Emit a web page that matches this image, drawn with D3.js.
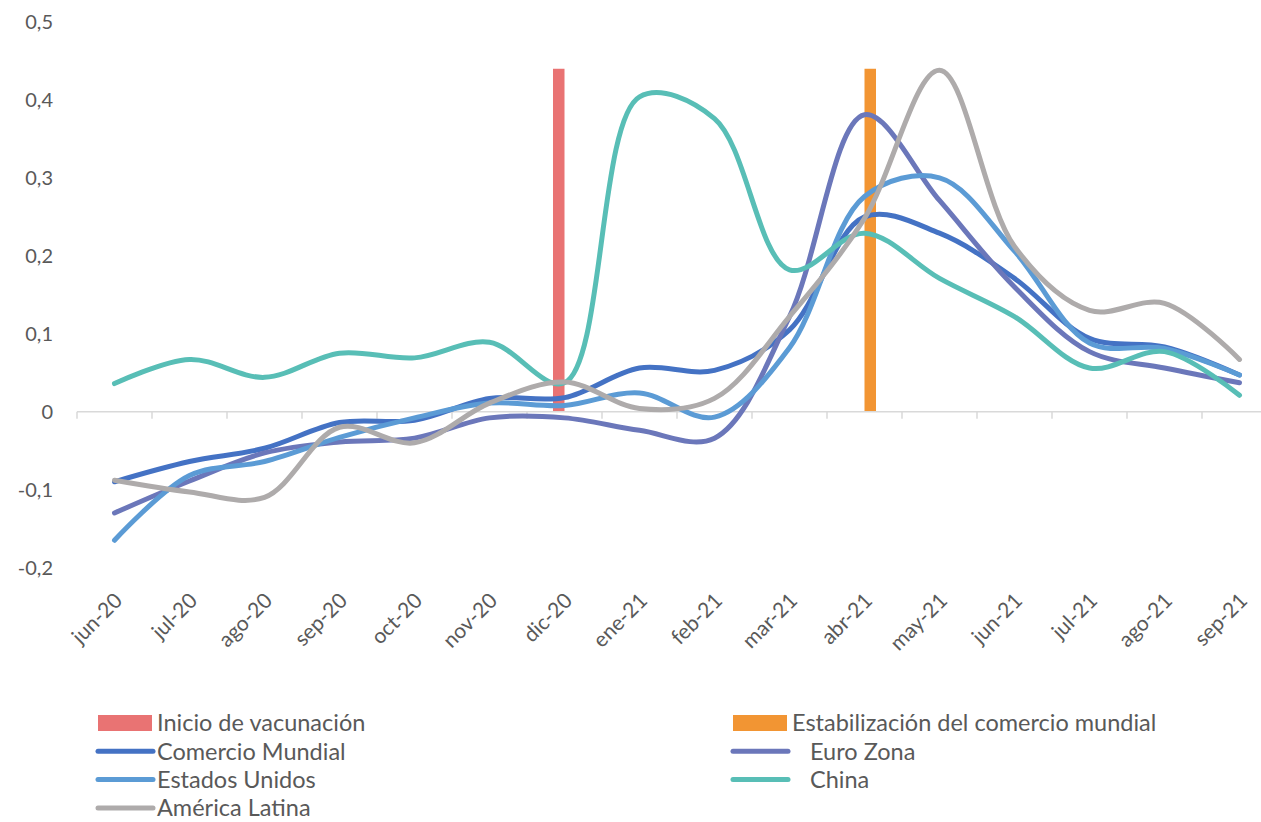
<!DOCTYPE html>
<html>
<head>
<meta charset="utf-8">
<script src="https://cdn.jsdelivr.net/npm/d3@7"></script>
<style>
  body { margin: 0; background: #fff; }
  text { font-family: Lato, "Open Sans", sans-serif; fill: #595959; }
</style>
</head>
<body>
<div id="chart"></div>
<script>
// data ---------------------------------------------------------------------------------------

var months = ["jun-20","jul-20","ago-20","sep-20","oct-20","nov-20","dic-20","ene-21",
              "feb-21","mar-21","abr-21","may-21","jun-21","jul-21","ago-21","sep-21"];

var yTicks = [-0.2, -0.1, 0, 0.1, 0.2, 0.3, 0.4, 0.5];

var comercioMundial = [-0.090,-0.064,-0.047,-0.014,-0.011,0.017,0.018,0.056,0.053,0.105,0.250,0.229,0.171,0.094,0.083,0.047];
var euroZona        = [-0.130,-0.089,-0.053,-0.039,-0.034,-0.008,-0.008,-0.024,-0.034,0.122,0.381,0.271,0.160,0.077,0.056,0.037];
var estadosUnidos   = [-0.165,-0.082,-0.064,-0.033,-0.008,0.011,0.008,0.024,-0.007,0.082,0.276,0.300,0.206,0.088,0.081,0.047];
var china           = [0.036,0.067,0.044,0.075,0.069,0.089,0.037,0.404,0.376,0.182,0.229,0.171,0.122,0.056,0.077,0.021];
var americaLatina   = [-0.088,-0.103,-0.110,-0.020,-0.040,0.011,0.038,0.004,0.017,0.122,0.248,0.438,0.212,0.130,0.139,0.067];

// event bars: one value each, at one month
var barNames = ["Inicio de vacunación", "Estabilización del comercio mundial"];
var barMonths = ["dic-20", "abr-21"];
var barValues = [0.44, 0.44];
var barColors = ["#E97373", "#F29533"];

var lineNames  = ["Comercio Mundial", "Euro Zona", "Estados Unidos", "China", "América Latina"];
var lineValues = [comercioMundial, euroZona, estadosUnidos, china, americaLatina];
var lineColors = ["#4472C4", "#6B77BA", "#5B9BD5", "#58BEB6", "#AEABAB"];

// chart --------------------------------------------------------------------------------------

var width = 1261, height = 822;

var svg = d3.select("#chart").append("svg")
  .attr("width", width)
  .attr("height", height);

var x = d3.scaleBand().domain(months).range([77, 1277]);
var y = d3.scaleLinear().domain([-0.2, 0.5]).range([567.5, 22]);

var xBar = d3.scaleBand().domain(barNames).range([0, x.bandwidth()]).paddingOuter(2.26);

var fmt = function(d){ return d3.format(".1f")(d).replace(".", ",").replace("−", "-"); };

// y labels, no axis line
svg.append("g").selectAll("text")
  .data(yTicks)
  .enter()
  .append("text")
    .attr("x", 53)
    .attr("y", function(d){ return y(d); })
    .attr("dy", "0.35em")
    .attr("text-anchor", "end")
    .attr("font-size", "20px")
    .text(function(d){ return d === 0 ? "0" : fmt(d); });

// event bars
svg.append("g").selectAll("rect")
  .data(barNames)
  .enter()
  .append("rect")
    .attr("x", function(d, i){ return x(barMonths[i]) + xBar(d); })
    .attr("width", xBar.bandwidth())
    .attr("y", function(d, i){ return y(barValues[i]); })
    .attr("height", function(d, i){ return y(0) - y(barValues[i]); })
    .attr("fill", function(d, i){ return barColors[i]; });

// x axis at zero, ticks between categories
var axis = svg.append("g").attr("transform", "translate(0," + y(0) + ")");
axis.append("line")
  .attr("x1", 77).attr("x2", 1277)
  .attr("stroke", "#D9D9D9").attr("stroke-width", 1.5);
axis.selectAll(".tick")
  .data(months)
  .enter()
  .append("line")
    .attr("class", "tick")
    .attr("x1", function(d){ return x(d); })
    .attr("x2", function(d){ return x(d); })
    .attr("y1", 0).attr("y2", 7)
    .attr("stroke", "#D9D9D9").attr("stroke-width", 1.5);

svg.append("g").selectAll("text")
  .data(months)
  .enter()
  .append("text")
    .attr("transform", function(d){
      return "translate(" + (x(d) + x.bandwidth()/2 + 9) + ",602) rotate(-45)";
    })
    .attr("text-anchor", "end")
    .attr("font-size", "21px")
    .text(function(d){ return d; });

// smoothed lines
var line = d3.line()
  .x(function(d, i){ return x(months[i]) + x.bandwidth()/2; })
  .y(function(d){ return y(d); })
  .curve(d3.curveCatmullRom.alpha(0.5));

svg.append("g").selectAll("path")
  .data(lineValues)
  .enter()
  .append("path")
    .attr("d", line)
    .attr("fill", "none")
    .attr("stroke", function(d, i){ return lineColors[i]; })
    .attr("stroke-width", 5)
    .attr("stroke-linecap", "round")
    .attr("stroke-linejoin", "round");

// legend, two columns, row by row
var legendItems = [
  {name: barNames[0], color: barColors[0], bar: true},
  {name: barNames[1], color: barColors[1], bar: true},
  {name: lineNames[0], color: lineColors[0]},
  {name: "   " + lineNames[1], color: lineColors[1]},
  {name: lineNames[2], color: lineColors[2]},
  {name: "   " + lineNames[3], color: lineColors[3]},
  {name: lineNames[4], color: lineColors[4]}
];

var legend = svg.append("g").selectAll("g")
  .data(legendItems)
  .enter()
  .append("g")
  .attr("transform", function(d, i){
    return "translate(" + (i % 2 ? 733 : 98) + "," + (723 + Math.floor(i/2) * 28.3) + ")";
  });

legend.filter(function(d){ return d.bar; }).append("rect")
  .attr("x", 0).attr("y", -8)
  .attr("width", 54).attr("height", 16)
  .attr("fill", function(d){ return d.color; });

legend.filter(function(d){ return !d.bar; }).append("line")
  .attr("x1", 0).attr("x2", 55)
  .attr("stroke", function(d){ return d.color; })
  .attr("stroke-width", 5)
  .attr("stroke-linecap", "round");

legend.append("text")
  .attr("x", 59)
  .attr("dy", "0.35em")
  .attr("font-size", "23.5px")
  .style("white-space", "pre")
  .text(function(d){ return d.name; });
</script>
</body>
</html>
